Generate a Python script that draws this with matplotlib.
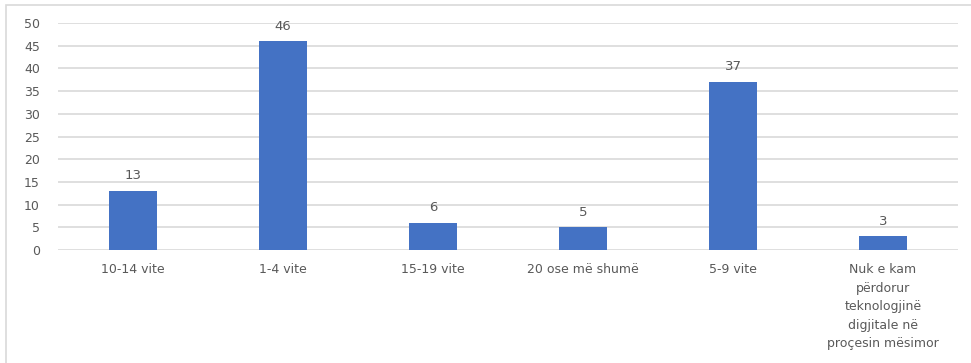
import matplotlib
matplotlib.use("Agg")
import matplotlib.pyplot as plt
from matplotlib.patches import Rectangle

# ─── Datos ────────────────────────────────────────────────────────────────────
kategorite = [
    "10-14 vite",
    "1-4 vite",
    "15-19 vite",
    "20 ose më shumë",
    "5-9 vite",
    "Nuk e kam\npërdorur\nteknologjinë\ndigjitale në\nproçesin mësimor",
]
vlerat = [13, 46, 6, 5, 37, 3]
y_ticks = [0, 5, 10, 15, 20, 25, 30, 35, 40, 45, 50]

BLU = "#4472C4"
GRI_TEKST = "#595959"
GRI_RRJET = "#D9D9D9"

plt.rcParams["font.family"] = ["DejaVu Sans"]

W, H = 971, 363
fig = plt.figure(figsize=(W / 100, H / 100), dpi=100)
fig.patch.set_facecolor("white")

# kufiri i grafikut (vetëm majtas e lart të dukshëm)
fig.patches.append(Rectangle((6 / W, -0.05), 1.0, 1 - 5 / H + 0.05,
                             transform=fig.transFigure, fill=False,
                             edgecolor=GRI_RRJET, linewidth=1.2))

ax = fig.add_axes([58 / W, 113 / H, 900 / W, 227 / H])
x = range(len(kategorite))
ax.bar(x, vlerat, width=0.32, color=BLU, zorder=3)

for i, v in enumerate(vlerat):
    ax.text(i, v + 1.9, f"{v}", ha="center", va="bottom",
            fontsize=9.5, color=GRI_TEKST)

ax.set_xlim(-0.5, len(kategorite) - 0.5)
ax.set_ylim(0, 50)
ax.set_yticks(y_ticks)
ax.set_xticks(list(x))
ax.set_xticklabels(kategorite, linespacing=1.55)
ax.tick_params(axis="both", length=0, labelsize=9, colors=GRI_TEKST)
ax.tick_params(axis="x", pad=9.5)
ax.tick_params(axis="y", pad=13)

ax.grid(axis="y", color=GRI_RRJET, linewidth=1.2, zorder=0)
for s in ax.spines.values():
    s.set_visible(False)

fig.savefig("out.png", dpi=100, facecolor="white")
